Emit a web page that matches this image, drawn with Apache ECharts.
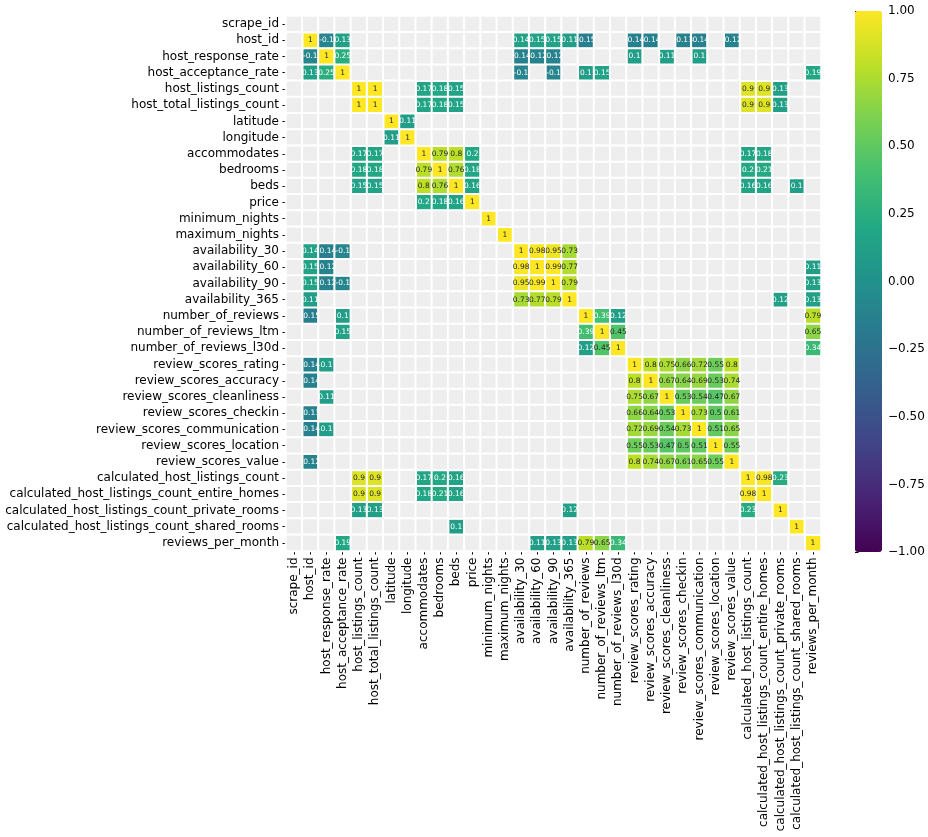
<!DOCTYPE html>
<html>
<head>
<meta charset="utf-8">
<script src="https://cdn.jsdelivr.net/npm/echarts@6/dist/echarts.min.js"></script>
<style>
html,body{margin:0;padding:0;background:#fff;}
#chart{width:928px;height:837px;}
</style>
</head>
<body>
<div id="chart"></div>
<script>
// ---- categories ----
const variables = [
  'scrape_id','host_id','host_response_rate','host_acceptance_rate',
  'host_listings_count','host_total_listings_count','latitude','longitude',
  'accommodates','bedrooms','beds','price','minimum_nights','maximum_nights',
  'availability_30','availability_60','availability_90','availability_365',
  'number_of_reviews','number_of_reviews_ltm','number_of_reviews_l30d',
  'review_scores_rating','review_scores_accuracy','review_scores_cleanliness',
  'review_scores_checkin','review_scores_communication','review_scores_location',
  'review_scores_value','calculated_host_listings_count',
  'calculated_host_listings_count_entire_homes',
  'calculated_host_listings_count_private_rooms',
  'calculated_host_listings_count_shared_rooms','reviews_per_month'
];
// variables with an undefined (NaN) correlation
const constantVariables = ['scrape_id'];

// ---- correlations shown (|r| >= 0.1), upper triangle ----
const hostPairs = [
  ['host_id','host_response_rate',-0.1],
  ['host_id','host_acceptance_rate',0.13],
  ['host_id','availability_30',0.14],
  ['host_id','availability_60',0.15],
  ['host_id','availability_90',0.15],
  ['host_id','availability_365',0.11],
  ['host_id','number_of_reviews',-0.15],
  ['host_id','review_scores_rating',-0.14],
  ['host_id','review_scores_accuracy',-0.14],
  ['host_id','review_scores_checkin',-0.13],
  ['host_id','review_scores_communication',-0.14],
  ['host_id','review_scores_value',-0.12],
  ['host_response_rate','host_acceptance_rate',0.25],
  ['host_response_rate','availability_30',-0.14],
  ['host_response_rate','availability_60',-0.12],
  ['host_response_rate','availability_90',-0.12],
  ['host_response_rate','review_scores_rating',0.1],
  ['host_response_rate','review_scores_cleanliness',0.11],
  ['host_response_rate','review_scores_communication',0.1],
  ['host_acceptance_rate','availability_30',-0.1],
  ['host_acceptance_rate','availability_90',-0.1],
  ['host_acceptance_rate','number_of_reviews',0.1],
  ['host_acceptance_rate','number_of_reviews_ltm',0.15],
  ['host_acceptance_rate','reviews_per_month',0.19]
];
const listingCountPairs = [
  ['host_listings_count','host_total_listings_count',1],
  ['host_listings_count','accommodates',0.17],
  ['host_listings_count','bedrooms',0.18],
  ['host_listings_count','beds',0.15],
  ['host_listings_count','calculated_host_listings_count',0.9],
  ['host_listings_count','calculated_host_listings_count_entire_homes',0.9],
  ['host_listings_count','calculated_host_listings_count_private_rooms',0.13],
  ['host_total_listings_count','accommodates',0.17],
  ['host_total_listings_count','bedrooms',0.18],
  ['host_total_listings_count','beds',0.15],
  ['host_total_listings_count','calculated_host_listings_count',0.9],
  ['host_total_listings_count','calculated_host_listings_count_entire_homes',0.9],
  ['host_total_listings_count','calculated_host_listings_count_private_rooms',0.13],
  ['calculated_host_listings_count','calculated_host_listings_count_entire_homes',0.98],
  ['calculated_host_listings_count','calculated_host_listings_count_private_rooms',0.23]
];
const propertyPairs = [
  ['latitude','longitude',0.11],
  ['accommodates','bedrooms',0.79],
  ['accommodates','beds',0.8],
  ['accommodates','price',0.2],
  ['accommodates','calculated_host_listings_count',0.17],
  ['accommodates','calculated_host_listings_count_entire_homes',0.18],
  ['bedrooms','beds',0.76],
  ['bedrooms','price',0.18],
  ['bedrooms','calculated_host_listings_count',0.2],
  ['bedrooms','calculated_host_listings_count_entire_homes',0.21],
  ['beds','price',0.16],
  ['beds','calculated_host_listings_count',0.16],
  ['beds','calculated_host_listings_count_entire_homes',0.16],
  ['beds','calculated_host_listings_count_shared_rooms',0.1]
];
const availabilityPairs = [
  ['availability_30','availability_60',0.98],
  ['availability_30','availability_90',0.95],
  ['availability_30','availability_365',0.73],
  ['availability_60','availability_90',0.99],
  ['availability_60','availability_365',0.77],
  ['availability_60','reviews_per_month',0.11],
  ['availability_90','availability_365',0.79],
  ['availability_90','reviews_per_month',0.13],
  ['availability_365','calculated_host_listings_count_private_rooms',0.12],
  ['availability_365','reviews_per_month',0.13]
];
const reviewCountPairs = [
  ['number_of_reviews','number_of_reviews_ltm',0.39],
  ['number_of_reviews','number_of_reviews_l30d',0.12],
  ['number_of_reviews','reviews_per_month',0.79],
  ['number_of_reviews_ltm','number_of_reviews_l30d',0.45],
  ['number_of_reviews_ltm','reviews_per_month',0.65],
  ['number_of_reviews_l30d','reviews_per_month',0.34]
];
const reviewScorePairs = [
  ['review_scores_rating','review_scores_accuracy',0.8],
  ['review_scores_rating','review_scores_cleanliness',0.75],
  ['review_scores_rating','review_scores_checkin',0.66],
  ['review_scores_rating','review_scores_communication',0.72],
  ['review_scores_rating','review_scores_location',0.55],
  ['review_scores_rating','review_scores_value',0.8],
  ['review_scores_accuracy','review_scores_cleanliness',0.67],
  ['review_scores_accuracy','review_scores_checkin',0.64],
  ['review_scores_accuracy','review_scores_communication',0.69],
  ['review_scores_accuracy','review_scores_location',0.53],
  ['review_scores_accuracy','review_scores_value',0.74],
  ['review_scores_cleanliness','review_scores_checkin',0.53],
  ['review_scores_cleanliness','review_scores_communication',0.54],
  ['review_scores_cleanliness','review_scores_location',0.47],
  ['review_scores_cleanliness','review_scores_value',0.67],
  ['review_scores_checkin','review_scores_communication',0.73],
  ['review_scores_checkin','review_scores_location',0.5],
  ['review_scores_checkin','review_scores_value',0.61],
  ['review_scores_communication','review_scores_location',0.51],
  ['review_scores_communication','review_scores_value',0.65],
  ['review_scores_location','review_scores_value',0.55]
];
// colour bar tick values
const colorbarTicks = [-1, -0.75, -0.5, -0.25, 0, 0.25, 0.5, 0.75, 1];

// ---- viridis palette ----
const viridis = ['#440154','#482475','#414487','#355f8d','#2a788e','#21918c',
                 '#22a884','#44bf70','#7ad151','#bddf26','#fde725'];

function hexToRgb(h){return [parseInt(h.slice(1,3),16),parseInt(h.slice(3,5),16),parseInt(h.slice(5,7),16)];}
function colorAt(v){
  const t = Math.max(0, Math.min(1, (v + 1) / 2)) * (viridis.length - 1);
  const i = Math.min(Math.floor(t), viridis.length - 2);
  const f = t - i;
  const a = hexToRgb(viridis[i]), b = hexToRgb(viridis[i+1]);
  return a.map((c,k)=>c + (b[k]-c)*f);
}
function luminance(rgb){
  const lin = rgb.map(c=>{c/=255;return c<=0.03928?c/12.92:Math.pow((c+0.055)/1.055,2.4);});
  return 0.2126*lin[0]+0.7152*lin[1]+0.0722*lin[2];
}

// ---- build matrix ----
const n = variables.length;
const idx = {};
variables.forEach((v,i)=>idx[v]=i);
const M = Array.from({length:n},()=>Array(n).fill(null));
variables.forEach((v,i)=>{ if(!constantVariables.includes(v)) M[i][i]=1; });
[hostPairs,listingCountPairs,propertyPairs,availabilityPairs,reviewCountPairs,reviewScorePairs]
  .forEach(list=>list.forEach(([a,b,r])=>{M[idx[a]][idx[b]]=r;M[idx[b]][idx[a]]=r;}));

const shown = [], masked = [];
for(let r=0;r<n;r++){
  for(let c=0;c<n;c++){
    const v = M[r][c];
    if(v===null){ masked.push([c,r,0]); continue; }
    const dark = luminance(colorAt(v)) <= 0.408;
    shown.push({value:[c,r,v], label:{color: dark ? '#ffffff' : '#262626'}});
  }
}

const chart = echarts.init(document.getElementById('chart'), null, {renderer:'canvas'});
const FONT = 'DejaVu Sans';
chart.setOption({
  backgroundColor:'#ffffff',
  animation:false,
  grid:[
    {left:286, top:16, width:535, height:535, containLabel:false},
    {left:855, top:11, width:27, height:541, containLabel:false}
  ],
  xAxis:[
    {type:'category', data:variables, gridIndex:0, position:'bottom',
     axisLine:{show:false}, splitLine:{show:false},
     axisTick:{show:true, alignWithLabel:true, length:3.5, lineStyle:{color:'#000'}},
     axisLabel:{rotate:90, interval:0, margin:6.5, fontSize:12, fontFamily:FONT, color:'#000'}},
    {type:'value', gridIndex:1, min:0, max:1, show:false}
  ],
  yAxis:[
    {type:'category', data:variables, gridIndex:0, inverse:true,
     axisLine:{show:false}, splitLine:{show:false},
     axisTick:{show:true, alignWithLabel:true, length:3.5, lineStyle:{color:'#000'}},
     axisLabel:{interval:0, margin:7, fontSize:12, fontFamily:FONT, color:'#000'}},
    {type:'value', gridIndex:1, min:colorbarTicks[0], max:colorbarTicks[colorbarTicks.length-1],
     interval:colorbarTicks[1]-colorbarTicks[0], position:'right',
     axisLine:{show:false}, splitLine:{show:false},
     axisTick:{show:true, length:3.5, lineStyle:{color:'#000'}},
     axisLabel:{margin:6, fontSize:12, fontFamily:FONT, color:'#000',
       formatter:v=>v.toFixed(2).replace('-','\u2212')}}
  ],
  visualMap:{
    type:'continuous', min:-1, max:1, seriesIndex:0, dimension:2,
    calculable:false, show:true, orient:'vertical',
    left:855, top:11, itemWidth:27, itemHeight:541, padding:0,
    text:null, showLabel:false, hoverLink:false, indicatorSize:0,
    inRange:{color:viridis}
  },
  series:[
    {type:'heatmap', xAxisIndex:0, yAxisIndex:0, data:shown,
     itemStyle:{borderColor:'#ffffff', borderWidth:2},
     label:{show:true, fontSize:7.5, fontFamily:FONT,
       formatter:p=>String(p.value[2])},
     emphasis:{disabled:true}},
    {type:'heatmap', xAxisIndex:0, yAxisIndex:0, data:masked,
     itemStyle:{color:'#eeeeee', borderColor:'#ffffff', borderWidth:2},
     label:{show:false}, emphasis:{disabled:true}},
    {type:'scatter', xAxisIndex:1, yAxisIndex:1, data:[], silent:true}
  ]
});
</script>
</body>
</html>
